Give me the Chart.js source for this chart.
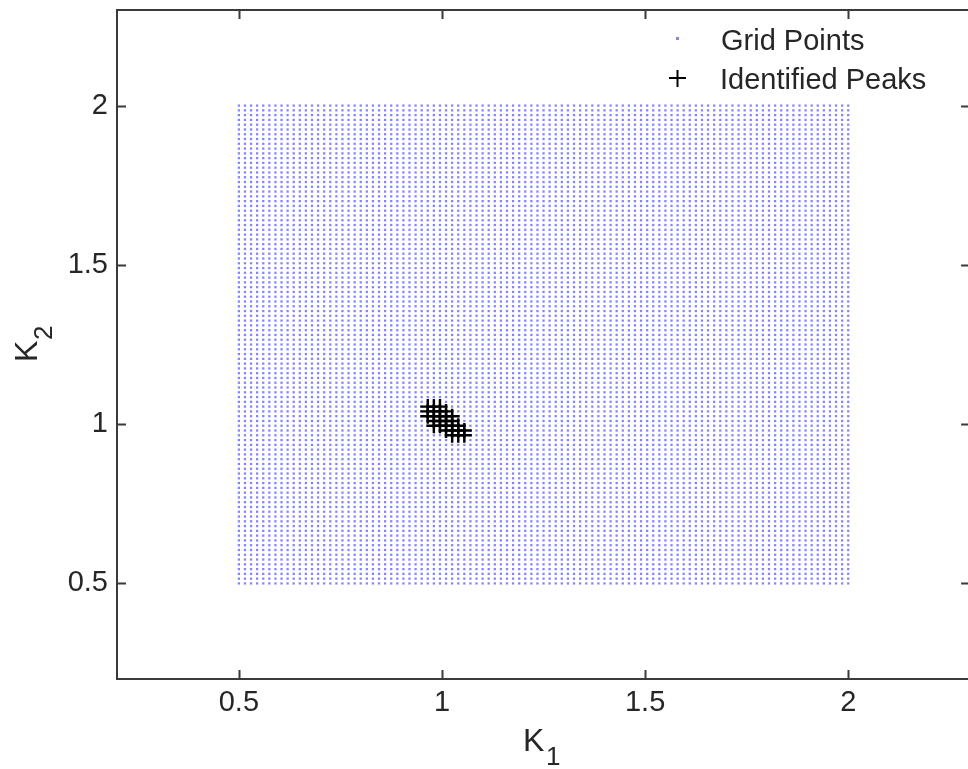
<!DOCTYPE html>
<html>
<head>
<meta charset="utf-8">
<script src="https://cdn.jsdelivr.net/npm/chart.js@4.4.1/dist/chart.umd.min.js"></script>
<style>
  html, body { margin: 0; padding: 0; background: #fff; overflow: hidden; }
  #wrap { position: absolute; left: 0; top: 0; width: 980px; height: 769px; }
</style>
</head>
<body>
<div id="wrap"><canvas id="c" width="980" height="769"></canvas></div>
<script>
// ---- data ----
const k1Grid = [
  0.5, 0.515, 0.53, 0.545, 0.56, 0.575, 0.59, 0.605, 0.62, 0.635,
  0.65, 0.665, 0.68, 0.695, 0.71, 0.725, 0.74, 0.755, 0.77, 0.785,
  0.8, 0.815, 0.83, 0.845, 0.86, 0.875, 0.89, 0.905, 0.92, 0.935,
  0.95, 0.965, 0.98, 0.995, 1.01, 1.025, 1.04, 1.055, 1.07, 1.085,
  1.1, 1.115, 1.13, 1.145, 1.16, 1.175, 1.19, 1.205, 1.22, 1.235,
  1.25, 1.265, 1.28, 1.295, 1.31, 1.325, 1.34, 1.355, 1.37, 1.385,
  1.4, 1.415, 1.43, 1.445, 1.46, 1.475, 1.49, 1.505, 1.52, 1.535,
  1.55, 1.565, 1.58, 1.595, 1.61, 1.625, 1.64, 1.655, 1.67, 1.685,
  1.7, 1.715, 1.73, 1.745, 1.76, 1.775, 1.79, 1.805, 1.82, 1.835,
  1.85, 1.865, 1.88, 1.895, 1.91, 1.925, 1.94, 1.955, 1.97, 1.985,
  2.0
];
const k2Grid = [
  0.5, 0.515, 0.53, 0.545, 0.56, 0.575, 0.59, 0.605, 0.62, 0.635,
  0.65, 0.665, 0.68, 0.695, 0.71, 0.725, 0.74, 0.755, 0.77, 0.785,
  0.8, 0.815, 0.83, 0.845, 0.86, 0.875, 0.89, 0.905, 0.92, 0.935,
  0.95, 0.965, 0.98, 0.995, 1.01, 1.025, 1.04, 1.055, 1.07, 1.085,
  1.1, 1.115, 1.13, 1.145, 1.16, 1.175, 1.19, 1.205, 1.22, 1.235,
  1.25, 1.265, 1.28, 1.295, 1.31, 1.325, 1.34, 1.355, 1.37, 1.385,
  1.4, 1.415, 1.43, 1.445, 1.46, 1.475, 1.49, 1.505, 1.52, 1.535,
  1.55, 1.565, 1.58, 1.595, 1.61, 1.625, 1.64, 1.655, 1.67, 1.685,
  1.7, 1.715, 1.73, 1.745, 1.76, 1.775, 1.79, 1.805, 1.82, 1.835,
  1.85, 1.865, 1.88, 1.895, 1.91, 1.925, 1.94, 1.955, 1.97, 1.985,
  2.0
];
const peakK1 = [
  0.965, 0.98, 0.995,
  0.965, 0.98, 0.995, 1.01,
  0.965, 0.98, 0.995, 1.01, 1.025,
  0.98, 0.995, 1.01, 1.025,
  0.98, 0.995, 1.01, 1.025, 1.04,
  1.01, 1.025, 1.04, 1.055,
  1.025, 1.04, 1.055
];
const peakK2 = [
  1.055, 1.055, 1.055,
  1.04, 1.04, 1.04, 1.04,
  1.025, 1.025, 1.025, 1.025, 1.025,
  1.01, 1.01, 1.01, 1.01,
  0.995, 0.995, 0.995, 0.995, 0.995,
  0.98, 0.98, 0.98, 0.98,
  0.965, 0.965, 0.965
];
const xTicks = [0.5, 1, 1.5, 2];
const yTicks = [0.5, 1, 1.5, 2];
const xRange = [0.2, 2.3];
const yRange = [0.2, 2.3];
const seriesNames = ['Grid Points', 'Identified Peaks'];
const axisNames = { x: ['K', '1'], y: ['K', '2'] };

// ---- build point tables ----
const gridPts = [];
for (const a of k1Grid) for (const b of k2Grid) gridPts.push({ x: a, y: b });
const peakPts = peakK1.map((a, i) => ({ x: a, y: peakK2[i] }));

const FONT = '"Liberation Sans", Arial, sans-serif';
const GRID_COLOR = 'rgba(90,90,255,0.75)';
const INK = '#262626';

const framePlugin = {
  id: 'frame',
  afterDraw(chart) {
    const { ctx, chartArea: a, scales } = chart;
    ctx.save();
    ctx.strokeStyle = '#3a3a3a';
    ctx.lineWidth = 2;
    ctx.strokeRect(a.left, a.top, a.right - a.left, a.bottom - a.top);
    const tl = 9;
    ctx.beginPath();
    for (const v of xTicks) {
      const px = Math.round(scales.x.getPixelForValue(v)) + 0.5;
      ctx.moveTo(px, a.bottom); ctx.lineTo(px, a.bottom - tl);
      ctx.moveTo(px, a.top); ctx.lineTo(px, a.top + tl);
    }
    for (const v of yTicks) {
      const py = Math.round(scales.y.getPixelForValue(v)) + 0.5;
      ctx.moveTo(a.left, py); ctx.lineTo(a.left + tl, py);
      ctx.moveTo(a.right, py); ctx.lineTo(a.right - tl, py);
    }
    ctx.stroke();

    // axis titles with subscripts
    ctx.fillStyle = INK;
    ctx.textBaseline = 'alphabetic';
    ctx.textAlign = 'left';
    ctx.font = '32px ' + FONT;
    ctx.fillText(axisNames.x[0], 523, 751);
    ctx.font = '26px ' + FONT;
    ctx.fillText(axisNames.x[1], 546, 765);

    ctx.save();
    ctx.translate(37, 362);
    ctx.rotate(-Math.PI / 2);
    ctx.font = '32px ' + FONT;
    ctx.fillText(axisNames.y[0], 0, 0);
    ctx.font = '26px ' + FONT;
    ctx.fillText(axisNames.y[1], 22, 15);
    ctx.restore();

    // legend
    ctx.font = '29px ' + FONT;
    ctx.fillStyle = INK;
    ctx.fillText(seriesNames[0], 721, 50);
    ctx.fillText(seriesNames[1], 720, 89);
    ctx.fillStyle = GRID_COLOR;
    ctx.fillRect(676, 37, 3, 3);
    ctx.strokeStyle = '#000';
    ctx.lineWidth = 2;
    ctx.beginPath();
    ctx.moveTo(669, 78); ctx.lineTo(686, 78);
    ctx.moveTo(677.5, 70); ctx.lineTo(677.5, 87);
    ctx.stroke();
    ctx.restore();
  }
};

new Chart(document.getElementById('c'), {
  type: 'scatter',
  data: {
    datasets: [
      {
        label: seriesNames[1],
        data: peakPts,
        pointStyle: 'cross',
        radius: 7.5,
        borderColor: '#000',
        backgroundColor: '#000',
        borderWidth: 2.4,
        order: 0
      },
      {
        label: seriesNames[0],
        data: gridPts,
        pointStyle: 'rect',
        radius: 1.6,
        borderWidth: 0,
        backgroundColor: GRID_COLOR,
        borderColor: GRID_COLOR,
        order: 1
      }
    ]
  },
  options: {
    responsive: false,
    animation: false,
    devicePixelRatio: 1,
    events: [],
    layout: { padding: { left: 0, top: 10, right: 7, bottom: 0 } },
    plugins: { legend: { display: false }, tooltip: { enabled: false } },
    scales: {
      x: {
        type: 'linear',
        min: xRange[0], max: xRange[1],
        afterBuildTicks: (s) => { s.ticks = xTicks.map(v => ({ value: v })); },
        afterFit: (s) => { s.height = 90; s.paddingLeft = 0; s.paddingRight = 0; },
        grid: { display: false, drawTicks: false },
        border: { display: false },
        ticks: {
          autoSkip: false, maxRotation: 0, padding: 7,
          color: INK, font: { family: FONT, size: 29 },
          callback: (v) => String(v)
        }
      },
      y: {
        type: 'linear',
        min: yRange[0], max: yRange[1],
        afterBuildTicks: (s) => { s.ticks = yTicks.map(v => ({ value: v })); },
        afterFit: (s) => { s.width = 117; s.paddingTop = 0; s.paddingBottom = 0; },
        grid: { display: false, drawTicks: false },
        border: { display: false },
        ticks: {
          autoSkip: false, padding: 9,
          color: INK, font: { family: FONT, size: 29 },
          callback: (v) => String(v)
        }
      }
    }
  },
  plugins: [framePlugin]
});
</script>
</body>
</html>
